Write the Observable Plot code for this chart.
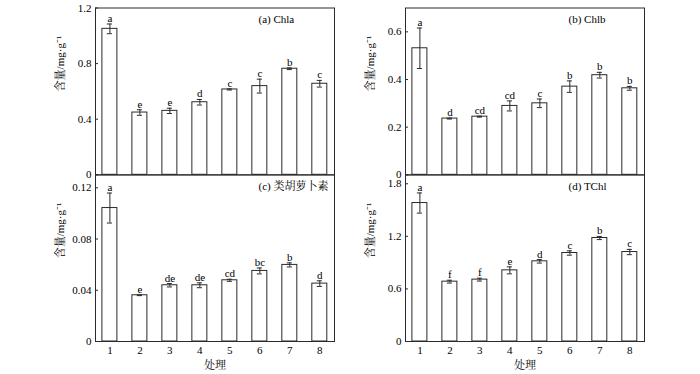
<!DOCTYPE html>
<html><head><meta charset="utf-8">
<script src="https://cdn.jsdelivr.net/npm/d3@7"></script>
<script src="https://cdn.jsdelivr.net/npm/@observablehq/plot@0.6"></script>
<style>
body{margin:0;background:#fff}
#fig{position:relative;width:700px;height:374px;overflow:hidden}
#fig svg{position:absolute}
</style></head><body><div id="fig"></div>
<script>
const treatments = [1, 2, 3, 4, 5, 6, 7, 8];

const chlaMean = [1.050, 0.448, 0.460, 0.522, 0.614, 0.638, 0.763, 0.655];
const chlaErr  = [0.035, 0.020, 0.019, 0.020, 0.004, 0.050, 0.006, 0.024];
const chlaLetters = ["a", "e", "e", "d", "c", "c", "b", "c"];

const chlbMean = [0.531, 0.236, 0.244, 0.289, 0.300, 0.370, 0.418, 0.363];
const chlbErr  = [0.085, 0.002, 0.002, 0.021, 0.018, 0.024, 0.012, 0.008];
const chlbLetters = ["a", "d", "cd", "cd", "c", "b", "b", "b"];

const carMean = [0.1042, 0.0361, 0.0439, 0.0439, 0.0478, 0.0551, 0.0598, 0.0452];
const carErr  = [0.0117, 0.0003, 0.0013, 0.0019, 0.0008, 0.0023, 0.0016, 0.0022];
const carLetters = ["a", "e", "de", "de", "cd", "bc", "b", "d"];

const tchlMean = [1.580, 0.683, 0.706, 0.812, 0.915, 1.010, 1.181, 1.021];
const tchlErr  = [0.115, 0.016, 0.016, 0.040, 0.020, 0.025, 0.018, 0.030];
const tchlLetters = ["a", "f", "f", "e", "d", "c", "b", "c"];

const chlaTicks = [0, 0.4, 0.8, 1.2];
const chlbTicks = [0, 0.2, 0.4, 0.6];
const carTicks = [0, 0.04, 0.08, 0.12];
const tchlTicks = [0, 0.6, 1.2, 1.8];

const titles = ["(a) Chla", "(b) Chlb", "(c) 类胡萝卜素", "(d) TChl"];
const yLabel = "含量/mg·g⁻¹";
const xLabel = "处理";

const FONT = "'Liberation Serif', 'Times New Roman', 'Noto Serif CJK SC', 'Noto Sans CJK SC', serif";
const INK = "#2a2a2a";

function rows(mean, err, letters) {
  return treatments.map((t, i) => ({t, mean: mean[i], err: err[i], letter: letters[i]}));
}

function panel({data, ticks, ymax, title, left, top, height, mt, mb, ml, mr, showX}) {
  const marks = [
    Plot.rectY(data, {x1: d => d.t - 0.25, x2: d => d.t + 0.25, y: "mean", fill: "white", stroke: INK, strokeWidth: 1}),
    Plot.ruleX(data, {x: "t", y1: d => d.mean - d.err, y2: d => d.mean + d.err, stroke: INK}),
    Plot.ruleY(data, {y: d => d.mean + d.err, x1: d => d.t - 0.085, x2: d => d.t + 0.085, stroke: INK}),
    Plot.ruleY(data, {y: d => d.mean - d.err, x1: d => d.t - 0.085, x2: d => d.t + 0.085, stroke: INK}),
    Plot.text(data, {x: "t", y: d => d.mean + d.err, text: "letter", lineAnchor: "bottom", dy: -2, fontSize: 11, fill: "black"}),
    Plot.frame({stroke: INK}),
    Plot.axisY({ticks, tickSize: -3, tickPadding: 7, tickFormat: d => String(+d.toFixed(3)), stroke: INK, fontSize: 11}),
    Plot.text([title], {frameAnchor: "top-left", dx: 163, dy: 7, textAnchor: "start", lineAnchor: "top", fontSize: 11, fill: "black"}),
    Plot.text([yLabel], {frameAnchor: "left", rotate: -90, dx: -35, fontSize: 11, fill: "black"})
  ];
  if (showX) {
    marks.push(Plot.axisX({ticks: treatments, tickSize: 0, tickPadding: 5, tickFormat: d => String(d), fontSize: 11}));
    marks.push(Plot.text([xLabel], {frameAnchor: "bottom", dy: 27, fontSize: 11, fill: "black"}));
  } else {
    marks.push(Plot.axisX({ticks: [], tickSize: 0, label: null}));
  }
  const svg = Plot.plot({
    width: 350, height,
    marginTop: mt, marginBottom: mb, marginLeft: ml, marginRight: mr,
    x: {type: "linear", domain: [0.52, 8.49], label: null},
    y: {domain: [0, ymax], label: null},
    style: {background: "transparent", fontFamily: FONT, fontSize: "11px", overflow: "visible", color: "black"},
    marks
  });
  svg.style.left = left + "px";
  svg.style.top = top + "px";
  document.getElementById("fig").appendChild(svg);
}

panel({data: rows(chlaMean, chlaErr, chlaLetters), ticks: chlaTicks, ymax: 1.2, title: titles[0],
  left: 0, top: 0, height: 180, mt: 7.5, mb: 5.7, ml: 95, mr: 16, showX: false});
panel({data: rows(chlbMean, chlbErr, chlbLetters), ticks: chlbTicks, ymax: 0.7, title: titles[1],
  left: 350, top: 0, height: 180, mt: 7.5, mb: 5.7, ml: 55, mr: 56, showX: false});
panel({data: rows(carMean, carErr, carLetters), ticks: carTicks, ymax: 0.13, title: titles[2],
  left: 0, top: 170, height: 204, mt: 4.5, mb: 33, ml: 95, mr: 16, showX: true});
panel({data: rows(tchlMean, tchlErr, tchlLetters), ticks: tchlTicks, ymax: 1.9, title: titles[3],
  left: 350, top: 170, height: 204, mt: 4.5, mb: 33, ml: 55, mr: 56, showX: true});
</script>
</body></html>
